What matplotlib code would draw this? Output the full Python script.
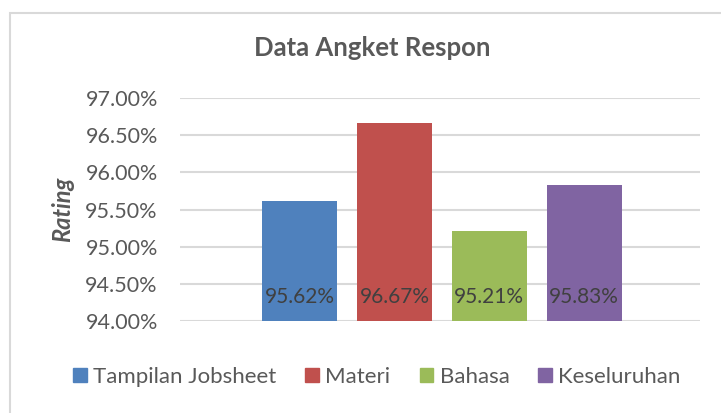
import matplotlib
matplotlib.use("Agg")
import matplotlib.pyplot as plt
from matplotlib.patches import Rectangle, Patch
from matplotlib.ticker import FuncFormatter

categories = ["Tampilan Jobsheet", "Materi", "Bahasa", "Keseluruhan"]
values = [95.62, 96.67, 95.21, 95.83]
colors = ["#4f81bd", "#c0504d", "#9bbb59", "#8064a2"]
yticks = [94.0, 94.5, 95.0, 95.5, 96.0, 96.5, 97.0]

plt.rcParams["font.family"] = ["Lato", "DejaVu Sans"]
text_col = "#595959"

fig = plt.figure(figsize=(7.21, 4.13), dpi=100)
fig.patches.append(Rectangle((10 / 721, -0.05), 1.0, 1 - 13 / 413 + 0.05,
                             transform=fig.transFigure, fill=False,
                             edgecolor="#d9d9d9", linewidth=1.5))

ax = fig.add_axes([180 / 721, 92 / 413, 520 / 721, 223 / 413])
x = range(len(categories))
ax.bar(x, [v - 94.0 for v in values], bottom=94.0, width=0.79, color=colors, zorder=3)
for i, v in enumerate(values):
    ax.annotate(f"{v:.2f}%", (i, 94.0), xytext=(0, 10), textcoords="offset points",
                ha="center", va="bottom", fontsize=15, color="#404040", zorder=4)

ax.set_ylim(94.0, 97.0)
ax.set_xlim(-1.26, 4.22)
ax.set_yticks(yticks)
ax.yaxis.set_major_formatter(FuncFormatter(lambda v, p: f"{v:.2f}%"))
ax.set_xticks([])
ax.tick_params(axis="y", length=0, labelsize=15.5, labelcolor=text_col, pad=16)
ax.grid(axis="y", color="#d9d9d9", linewidth=1.5, zorder=0)
for s in ax.spines.values():
    s.set_visible(False)

ax.set_ylabel("Rating", fontsize=17, fontweight="bold", fontstyle="italic",
              color=text_col, labelpad=8)
fig.text(372 / 721, 1 - 48 / 413, "Data Angket Respon", ha="center", va="center",
         fontsize=18.5, fontweight="bold", color=text_col)

handles = [Patch(color=c, label=l) for c, l in zip(colors, categories)]
fig.legend(handles=handles, loc="center", bbox_to_anchor=(377 / 721, 1 - 377 / 413),
           ncol=4, frameon=False, fontsize=16, labelcolor=text_col,
           handlelength=0.6, handleheight=0.6, handletextpad=0.3, columnspacing=1.3)

fig.savefig("out.png", dpi=100)
